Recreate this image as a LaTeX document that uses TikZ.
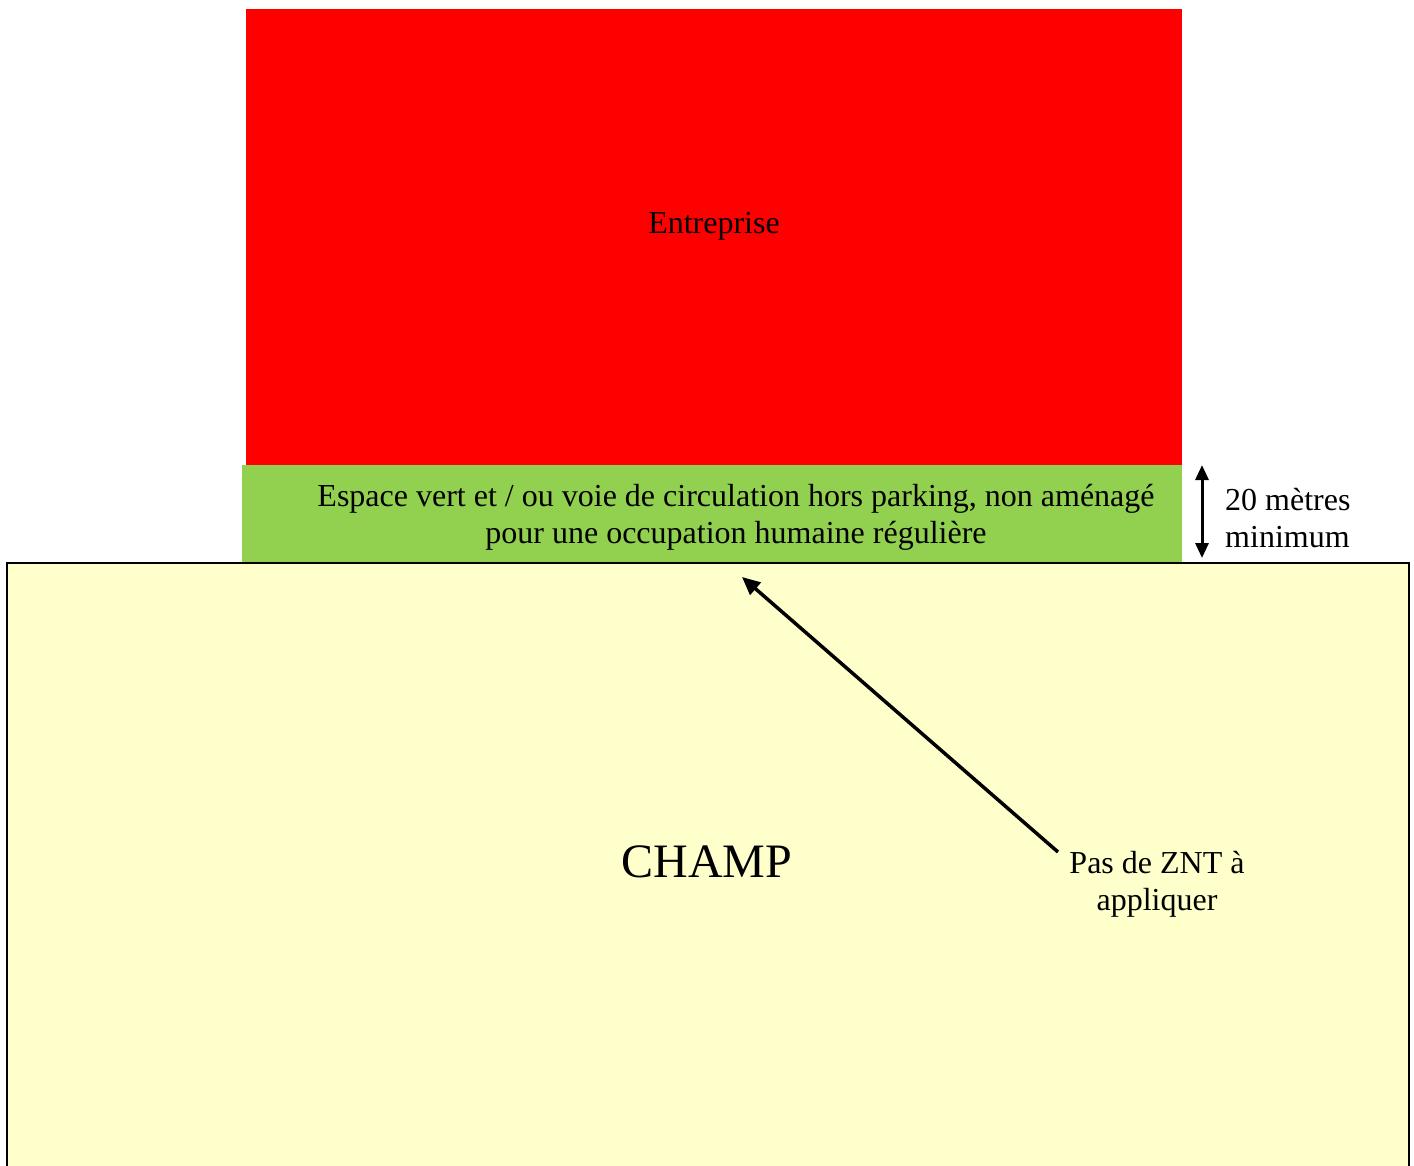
\documentclass[tikz,border=0pt]{standalone}
\usepackage{fontspec}
\setmainfont{Liberation Serif}
\usetikzlibrary{arrows.meta}
\definecolor{redzone}{HTML}{FF0000}
\definecolor{greenzone}{HTML}{92D050}
\definecolor{fieldzone}{HTML}{FFFFCC}
\begin{document}
\begin{tikzpicture}[x=1pt,y=-1pt,
  lbl/.style={inner sep=0pt,font=\fontsize{32}{37}\selectfont,align=center},
  bigl/.style={inner sep=0pt,font=\fontsize{48}{56}\selectfont},
  arr/.style={line width=3.5pt,-{Triangle[length=18pt,width=16pt]}},
  dbl/.style={line width=3pt,{Triangle[length=15pt,width=13pt]}-{Triangle[length=15pt,width=13pt]}}]
\useasboundingbox (0,0) rectangle (1414,1165);
% field
\fill[fieldzone] (7,563) rectangle (1409,1170);
\draw[line width=2pt] (7,1170) -- (7,563) -- (1409,563) -- (1409,1170);
% company
\fill[redzone] (246,9) rectangle (1182,465);
% green strip
\fill[greenzone] (242,465) rectangle (1182,562);
\node[lbl] (ent) at (714,226) {Entreprise};
\node[lbl] (esp) at (736,517) {Espace vert et / ou voie de circulation hors parking, non aménagé\\pour une occupation humaine régulière};
\node[bigl] (champ) at (707,862) {CHAMP};
\node[lbl,align=left,anchor=west] (dist) at (1225,518) {20 mètres\\minimum};
\node[lbl] (znt) at (1157,884) {Pas de ZNT à\\appliquer};
\coordinate (dtop) at (1202,465);
\coordinate (dbot) at (1202,558);
\coordinate (astart) at (1058,852);
\coordinate (aend) at (742,577);
\draw[dbl] (dtop) -- (dbot);
\draw[arr] (astart) -- (aend);
\end{tikzpicture}
\end{document}
